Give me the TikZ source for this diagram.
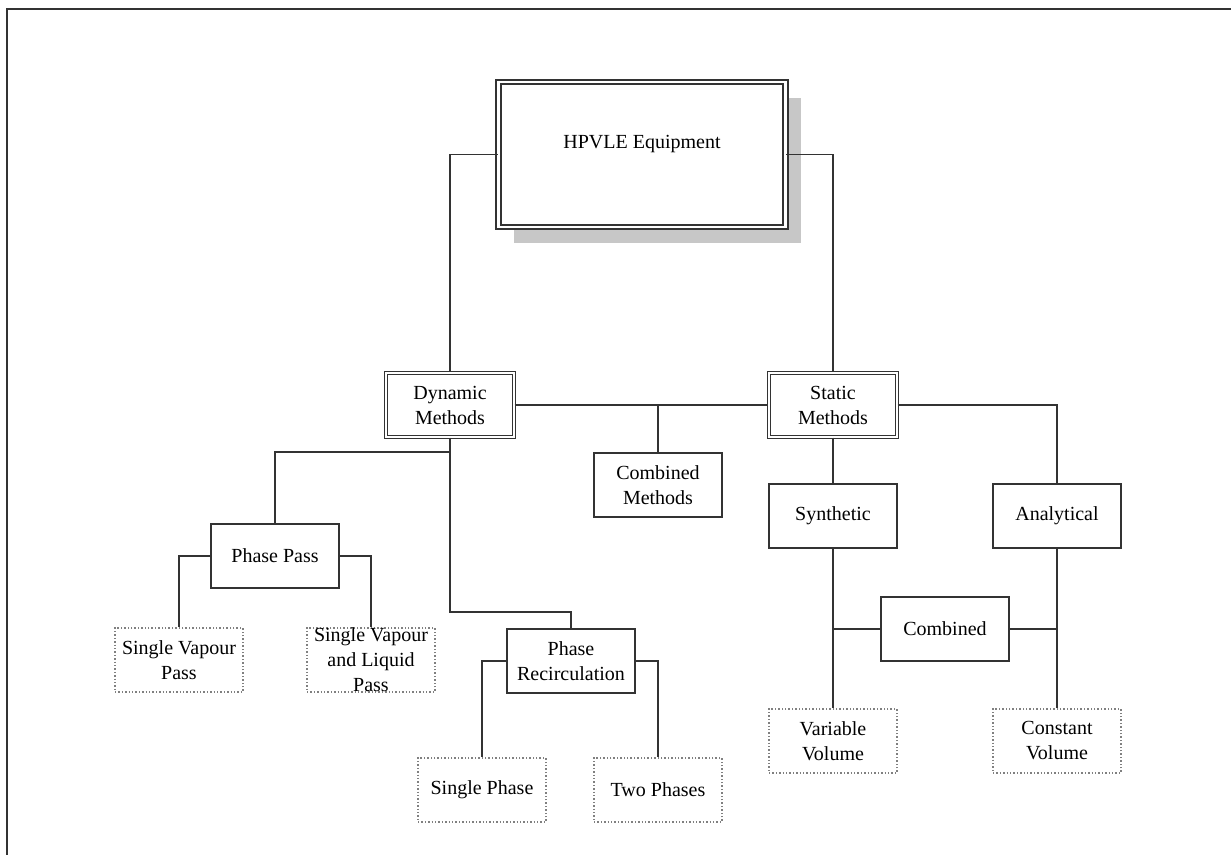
\documentclass[tikz,border=0pt]{standalone}
\usepackage{fontspec}
\setmainfont{Liberation Serif}
\usetikzlibrary{shadows}

\begin{document}
\begin{tikzpicture}[x=0.5pt,y=-0.5pt,
    box/.style={draw=black!80, fill=white, line width=0.7pt, minimum width=64pt, minimum height=32pt,
      align=center, inner sep=1pt, font=\fontsize{10}{12.5}\selectfont},
    doublebox/.style={box, double=white, double distance=1pt, line width=0.7pt},
    leaf/.style={box, draw=black!50, densely dotted, line width=0.6pt},
    link/.style={draw=black!80, line width=0.7pt}]
  \useasboundingbox (0,0) rectangle (1231,855);
  \draw[black!80, line width=1pt] (1231,9) -- (7,9) -- (7,855);

  \node[box, double=white, double distance=1.4pt, line width=0.9pt, minimum width=143.5pt,
    inner sep=0pt, text height=33.5pt, text depth=39pt,
    drop shadow={shadow xshift=7.5pt, shadow yshift=-8pt, fill=black!22, opacity=1}]
    (hpvle) at (642,154.5) {HPVLE Equipment};

  \node[doublebox] (dyn) at (450,405) {Dynamic\\Methods};
  \node[doublebox] (stat) at (833,405) {Static\\Methods};
  \node[box] (combm) at (658,485) {Combined\\Methods};
  \node[box] (synth) at (833,516) {Synthetic};
  \node[box] (anal) at (1057,516) {Analytical};
  \node[box] (comb) at (945,629) {Combined};
  \node[leaf] (varvol) at (833,741) {Variable\\Volume};
  \node[leaf] (constvol) at (1057,741) {Constant\\Volume};

  \node[box] (pass) at (275,556) {Phase Pass};
  \node[leaf] (svp) at (179,660) {Single Vapour\\Pass};
  \node[leaf, inner ysep=0pt] (svlp) at (371,660) {Single Vapour\\and Liquid\\Pass};
  \node[box] (recirc) at (571,661) {Phase\\Recirculation};
  \node[leaf] (onephase) at (482,790) {Single Phase};
  \node[leaf] (twophase) at (658,790) {Two Phases};

  \coordinate (dsplit) at (450,452);
  \coordinate (dknee) at (450,612);

  \draw[link] (hpvle.west) -| (dyn.north);
  \draw[link] (hpvle.east) -| (stat.north);
  \draw[link] (dyn.east) -- (stat.west);
  \draw[link] (combm.north) -- (combm.north |- dyn.east);
  \draw[link] (stat.east) -| (anal.north);
  \draw[link] (stat.south) -- (synth.north);
  \draw[link] (synth.south) -- (varvol.north);
  \draw[link] (anal.south) -- (constvol.north);
  \draw[link] (comb.west) -- (comb.west -| synth.south);
  \draw[link] (comb.east) -- (comb.east -| anal.south);

  \draw[link] (dyn.south) -- (dsplit) -| (pass.north);
  \draw[link] (dsplit) -- (dknee) -| (recirc.north);
  \draw[link] (pass.west) -| (svp.north);
  \draw[link] (pass.east) -| (svlp.north);
  \draw[link] (recirc.west) -| (onephase.north);
  \draw[link] (recirc.east) -| (twophase.north);
\end{tikzpicture}
\end{document}
